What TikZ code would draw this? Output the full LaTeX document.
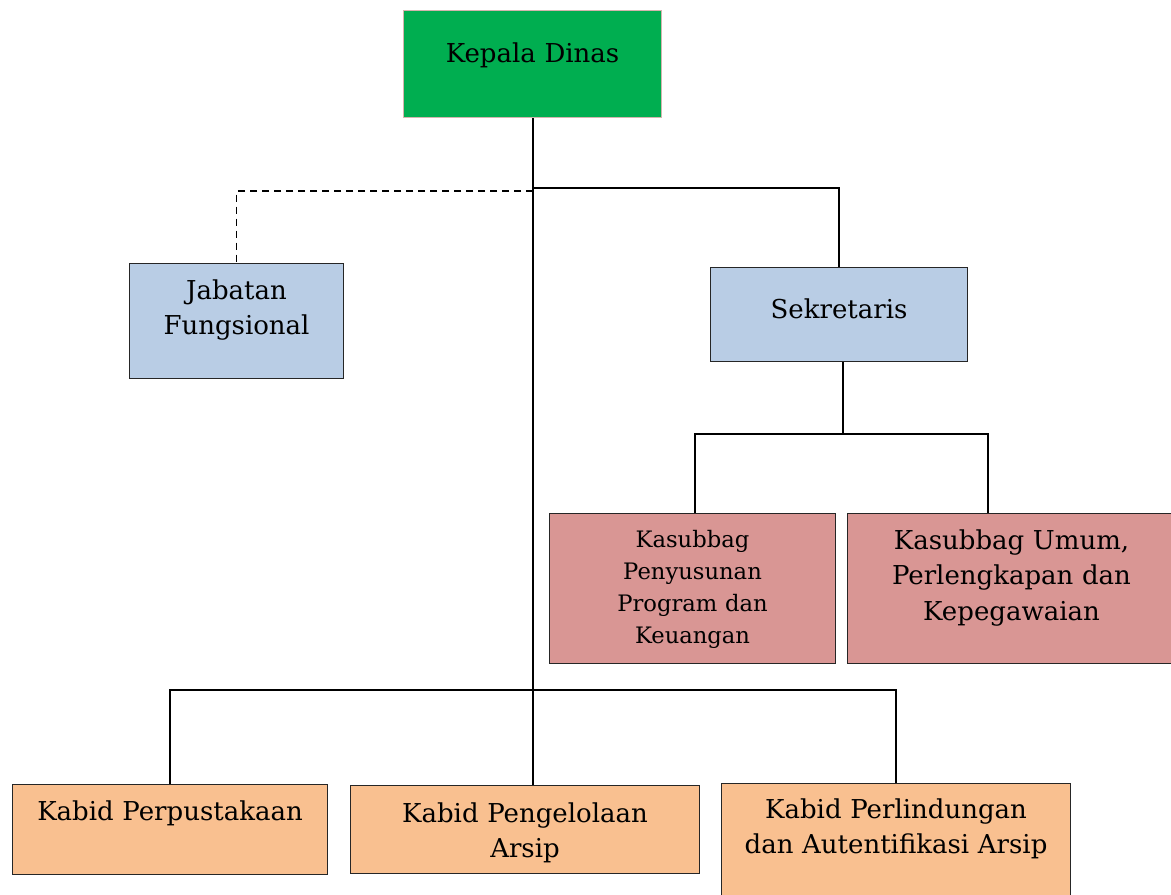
\documentclass[tikz,border=0pt]{standalone}
\usepackage{fontspec}
\setmainfont{DejaVu Serif}

\definecolor{kadisgreen}{HTML}{00AE50}
\definecolor{kadisline}{HTML}{D4B4AE}
\definecolor{sekblue}{HTML}{B9CDE5}
\definecolor{subpink}{HTML}{D99694}
\definecolor{bidorange}{HTML}{F9C090}

\tikzset{
	box/.style={draw=black!85, line width=0.8pt, inner sep=0pt, align=center,
		anchor=north west, font=\fontsize{19.5}{26.5}\selectfont},
	link/.style={line width=1.4pt}
}

\begin{document}
\begin{tikzpicture}[x=0.75pt,y=-0.75pt]

\useasboundingbox (0,0) rectangle (1171,895);

% kepala dinas
\node[box, draw=kadisline, fill=kadisgreen, text width=193.5pt, text height=39pt, text depth=41.25pt] (kadis) at (403,10) {Kepala Dinas};

% jabatan fungsional dan sekretaris
\node[box, fill=sekblue, text width=160.5pt, text height=27pt, text depth=59.25pt] (jabfung) at (129,263) {Jabatan\\Fungsional};
\node[box, fill=sekblue, text width=192.75pt, text height=38.25pt, text depth=32.25pt] (sekr) at (710,267) {Sekretaris};

% kasubbag
\node[box, fill=subpink, text width=214.5pt, text height=25.5pt, text depth=87pt,
	font=\fontsize{17}{24}\selectfont] (kasprog) at (549,513) {Kasubbag\\Penyusunan\\Program dan\\Keuangan};
\node[box, fill=subpink, text width=246pt, text height=27pt, text depth=85.5pt] (kasumum) at (847,513) {Kasubbag Umum,\\Perlengkapan dan\\Kepegawaian};

% kabid
\node[box, fill=bidorange, text width=236.25pt, text height=27pt, text depth=40.5pt] (kabpus) at (12,784) {Kabid Perpustakaan};
\node[box, fill=bidorange, text width=261.75pt, text height=27.75pt, text depth=38.25pt] (kabars) at (350,785) {Kabid Pengelolaan\\Arsip};
\node[box, fill=bidorange, text width=261.75pt, text height=26.25pt, text depth=63pt] (kablin) at (721,783) {Kabid Perlindungan\\dan Autentifikasi Arsip};

% titik cabang
\coordinate (top) at (533,188);
\coordinate (fung) at (533,191);
\coordinate (sek) at (843,434);
\coordinate (subL) at (695,434);
\coordinate (subR) at (988,434);
\coordinate (bid) at (533,690);

% garis
\draw[link] (kadis.south -| top) -- (kabars.north -| top);
\draw[link] (top) -| (sekr.north);
\draw[link, dash pattern=on 5.5pt off 3.5pt] (fung) -| (jabfung.north);
\draw[link] (sekr.south -| sek) -- (sek);
\draw[link] (kasprog.north -| subL) -- (subL) -- (subR) -- (kasumum.north -| subR);
\draw[link] (kabpus.north) |- (bid) -| (kablin.north);

\end{tikzpicture}
\end{document}
